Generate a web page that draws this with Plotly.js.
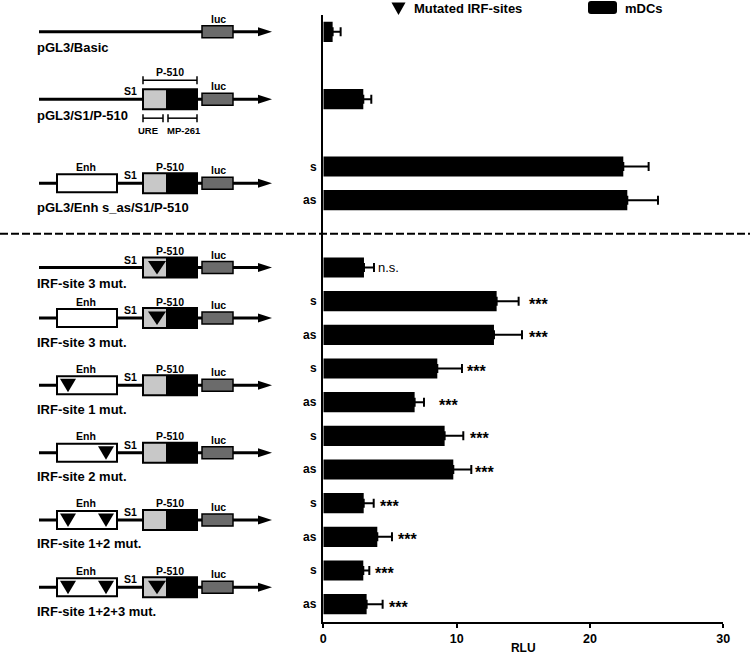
<!DOCTYPE html>
<html><head><meta charset="utf-8">
<script src="https://cdn.plot.ly/plotly-3.0.1.min.js"></script>
<style>html,body{margin:0;padding:0;background:#fff}#chart{width:750px;height:655px}</style>
</head><body><div id="chart"></div>
<script>
// ---------------- DATA ----------------
const constructs = ['pGL3/Basic','pGL3/S1/P-510','pGL3/Enh s_as/S1/P-510','IRF-site 3 mut.','IRF-site 3 mut.','IRF-site 1 mut.','IRF-site 2 mut.','IRF-site 1+2 mut.','IRF-site 1+2+3 mut.'];
const hasEnh = [false,false,true,false,true,true,true,true,true];
const hasPromoter = [false,true,true,true,true,true,true,true,true];
const mutatedSites = [[],[],[],[3],[3],[1],[2],[1,2],[1,2,3]];
const barConstruct = [0,1,2,2,3,4,4,5,5,6,6,7,7,8,8];
const orientation = ['','','s','as','','s','as','s','as','s','as','s','as','s','as'];
const rlu = [0.7,3.0,22.5,22.8,3.05,13.0,12.8,8.55,6.85,9.1,9.75,3.03,4.05,3.0,3.25];
const sem = [0.6,0.6,1.9,2.3,0.75,1.65,2.1,1.85,0.7,1.4,1.35,0.75,1.1,0.45,1.2];
const significance = ['','','','','n.s.','***','***','***','***','***','***','***','***','***','***'];
const xTicks = [0,10,20,30];
const legendLabels = ['Mutated IRF-sites','mDCs'];

// ---------------- LAYOUT HELPERS ----------------
const F = 'Liberation Sans, Arial, Helvetica, sans-serif';
const W = 750, H = 655;
const sectionBreakAfter = 2;
const sigGap = [0,0,0,0,2,8,5,3,13,5,2,4,4,4,4];

let slot = 0, dashedSlot = 0;
const barSlot = [], constructSlot = [];
constructs.forEach((c, ci) => {
  const start = slot;
  barConstruct.forEach((b, i) => { if (b === ci) { barSlot[i] = slot; slot++; } });
  constructSlot[ci] = (start + slot - 1) / 2;
  if (ci <= sectionBreakAfter) { if (ci === sectionBreakAfter) dashedSlot = slot; slot++; }
});

const shapes = [], annotations = [];
function S(yAnchor, o, yref) {
  return Object.assign({xref:'paper', xsizemode:'pixel', xanchor:0, yref: yref || 'y', ysizemode:'pixel', yanchor:yAnchor}, o);
}
function rect(yA, x0, x1, dy, style, yref) {
  shapes.push(S(yA, Object.assign({type:'rect', x0:x0, x1:x1, y0:-dy, y1:dy}, style), yref));
}
function txt(text, px, yA, dy, size, anchor, yref, weight) {
  annotations.push({text:text, xref:'paper', x:px / W, yref: yref || 'y', y:yA, yshift:-dy,
    xanchor: anchor || 'center', yanchor:'middle', showarrow:false,
    font:{family:F, size:size, color:'#000', weight: weight === undefined ? 700 : weight}});
}
const ENH = [57,117], PROM = [143,197], SPLIT = 166, LUC = [202,233];
const SITE_X = {1:[60,76], 2:[98,114], 3:[148,166]};

constructs.forEach((name, ci) => {
  const y = constructSlot[ci];
  shapes.push(S(y, {type:'line', x0:39, x1:260, y0:0, y1:0, line:{color:'#000', width:3}}));
  shapes.push(S(y, {type:'path', path:'M258,4.5L272,0L258,-4.5Z', fillcolor:'#000', line:{width:0}}));
  if (hasEnh[ci]) {
    rect(y, ENH[0], ENH[1], 9, {fillcolor:'#fff', line:{color:'#000', width:2}});
    txt('Enh', 86, y, -16.5, 10.5);
  }
  if (hasPromoter[ci]) {
    rect(y, PROM[0], SPLIT, 10, {fillcolor:'#c8c8c8', line:{width:0}});
    rect(y, SPLIT, PROM[1], 10, {fillcolor:'#000', line:{width:0}});
    rect(y, PROM[0], PROM[1], 10, {fillcolor:'rgba(0,0,0,0)', line:{color:'#000', width:2}});
    txt('S1', 130, y, -8, 10.5);
  }
  rect(y, LUC[0], LUC[1], 6, {fillcolor:'#6b6b6b', line:{color:'#000', width:1.5}});
  txt('luc', 218, y, -13, 10.5);
  mutatedSites[ci].forEach(s => {
    const [a, b] = SITE_X[s];
    const m = (a + b) / 2;
    shapes.push(S(y, {type:'path', path:'M'+a+',6.5L'+b+',6.5L'+m+',-7Z', fillcolor:'#000', line:{width:0}}));
  });
  if (ci === 1) {
    const seg = (x0, x1, dy) => {
      shapes.push(S(y, {type:'line', x0:x0, x1:x1, y0:-dy, y1:-dy, line:{color:'#000', width:1.5}}));
      shapes.push(S(y, {type:'line', x0:x0, x1:x0, y0:-dy-4, y1:-dy+4, line:{color:'#000', width:1.5}}));
      shapes.push(S(y, {type:'line', x0:x1, x1:x1, y0:-dy-4, y1:-dy+4, line:{color:'#000', width:1.5}}));
    };
    seg(143, 197, -19);
    txt('P-510', 170, y, -27, 10.5);
    seg(143, 163, 19);
    seg(168, 197, 19);
    txt('URE', 148, y, 31, 9.5);
    txt('MP-261', 184, y, 31, 9.5);
  } else if (hasPromoter[ci]) {
    txt('P-510', 170, y, -16.5, 10.5);
  }
  const two = barConstruct.filter(b => b === ci).length > 1;
  txt(name, 35, y, two ? 24 : 16, 13, 'left');
});

// dashed separator
shapes.push({type:'line', xref:'paper', x0:0, x1:1, yref:'y', y0:dashedSlot, y1:dashedSlot,
  line:{color:'#000', width:2, dash:'8px,3px'}});

// s / as labels and significance marks
orientation.forEach((o, i) => {
  if (o) txt(o, 319, barSlot[i], 0, 12, 'right');
  if (significance[i]) {
    const star = significance[i] === '***';
    annotations.push({text:significance[i], xref:'x', x:rlu[i] + sem[i], yref:'y', y:barSlot[i],
      xanchor:'left', yanchor:'middle', xshift:sigGap[i], yshift: star ? -3 : 0, showarrow:false,
      font:{family:F, size: star ? 16 : 13, color:'#000', weight: star ? 700 : 400}});
  }
});

// custom legend at top
shapes.push(S(1, {type:'path', path:'M391.5,12.5L405.5,12.5L398.5,0Z', fillcolor:'#000', line:{width:0}}, 'paper'));
shapes.push(S(1, {type:'path', path:'M591,14L614,14Q617,14 617,11L617,4Q617,1 614,1L591,1Q588,1 588,4L588,11Q588,14 591,14Z', fillcolor:'#000', line:{width:0}}, 'paper'));
annotations.push({text:legendLabels[0], xref:'paper', x:411.5/W, yref:'paper', y:1, yshift:6.5, xanchor:'left', yanchor:'middle', showarrow:false, font:{family:F, size:13, color:'#000', weight:700}});
annotations.push({text:legendLabels[1], xref:'paper', x:623/W, yref:'paper', y:1, yshift:6.5, xanchor:'left', yanchor:'middle', showarrow:false, font:{family:F, size:13, color:'#000', weight:700}});

const trace = {
  type:'bar', orientation:'h', name:legendLabels[1],
  x:rlu, y:barSlot, width:0.6,
  marker:{color:'#000', line:{width:0}},
  error_x:{type:'data', symmetric:false, array:sem, arrayminus:sem.map(() => 0), color:'#000', thickness:2, width:4.5},
  hoverinfo:'x', showlegend:false
};

const layout = {
  width:W, height:H, margin:{l:0, r:0, t:15, b:33},
  paper_bgcolor:'#fff', plot_bgcolor:'#fff', showlegend:false,
  font:{family:F, color:'#000'},
  xaxis:{domain:[323.3/W, 723.3/W], range:[0,30], tickvals:xTicks, ticktext:xTicks.map(String),
    ticks:'outside', ticklen:4, tickwidth:2, tickcolor:'#000', showline:true, linewidth:2, linecolor:'#000',
    showgrid:false, zeroline:false, tickfont:{family:F, size:12.5, color:'#000', weight:700},
    title:{text:'RLU', font:{family:F, size:12, color:'#000', weight:700}, standoff:3}},
  yaxis:{range:[17.53,-0.5], showline:true, linewidth:2, linecolor:'#000', showticklabels:false,
    ticks:'', showgrid:false, zeroline:false},
  shapes:shapes, annotations:annotations
};
Plotly.newPlot('chart', [trace], layout, {displayModeBar:false, staticPlot:true});
</script></body></html>
